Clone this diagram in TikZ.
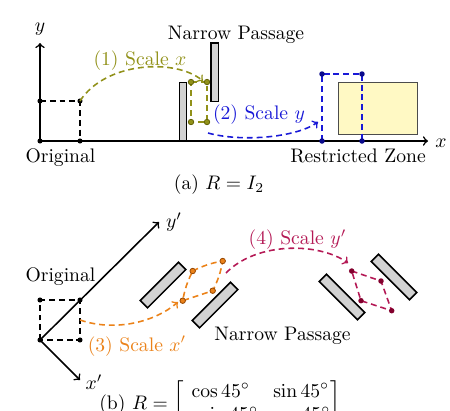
\documentclass[tikz,border=0pt]{standalone}
\usepackage{amsmath}
\definecolor{olivec}{RGB}{145,145,25}
\definecolor{olived}{RGB}{100,100,10}
\definecolor{bluec}{RGB}{25,25,215}
\definecolor{blued}{RGB}{10,10,140}
\definecolor{orangec}{RGB}{235,130,25}
\definecolor{oranged}{RGB}{150,70,0}
\definecolor{purplec}{RGB}{180,25,85}
\definecolor{purpled}{RGB}{130,0,45}
\definecolor{zonefill}{RGB}{255,249,196}
\begin{document}
\begin{tikzpicture}[x=0.51pt,y=-0.51pt,
  axisline/.style={thick,->},
  dashbox/.style={thick,dash pattern=on 3pt off 2pt},
  bar/.style={draw,thick,fill=gray!35},
  rbar/.style={draw,thick,fill=gray!35,minimum width=27.6pt,minimum height=5.3pt,inner sep=0pt},
  lbl/.style={anchor=base,inner sep=0pt}]
\useasboundingbox (0,0) rectangle (450,410);
% ---------- (a) ----------
\coordinate (oA) at (40,141);
\coordinate (xA) at (428,141);
\coordinate (yA) at (40,43);
\draw[axisline] (oA) -- (xA);
\draw[axisline] (oA) -- (yA);
\node (xlab) at (441,143) {$x$};
\node (ylab) at (40,29) {$y$};
% original square
\coordinate (a1) at (40,101);
\coordinate (a2) at (80,101);
\coordinate (a3) at (80,141);
\draw[dashbox] (a1) -- (a2) -- (a3);
\foreach \p in {oA,a1,a2,a3} \fill (\p) circle (1.3pt);
\node[lbl] (origA) at (60.5,162) {Original};
% narrow passage
\draw[bar] (179.5,82.5) rectangle (186.5,141);
\draw[bar] (211,43) rectangle (218.5,101.5);
\node[lbl] (npA) at (236,39.5) {Narrow Passage};
% restricted zone
\draw[draw=black!70,fill=zonefill] (338,82) rectangle (417,134);
\node[lbl] (rz) at (358,162) {Restricted Zone};
% olive box
\coordinate (b1) at (191,82);
\coordinate (b2) at (207,82);
\coordinate (b3) at (207,122);
\coordinate (b4) at (191,122);
\draw[dashbox,olivec] (b1) -- (b2) -- (b3) -- (b4) -- cycle;
\foreach \p in {b1,b2,b3,b4} \filldraw[fill=olivec,draw=olived,thin] (\p) circle (1.4pt);
% blue box
\coordinate (c1) at (322,74);
\coordinate (c2) at (362,74);
\coordinate (c3) at (362,141);
\coordinate (c4) at (322,141);
\draw[dashbox,bluec] (c4) -- (c1) -- (c2) -- (c3);
\foreach \p in {c1,c2,c3,c4} \fill[blued] (\p) circle (1.4pt);
% arcs
\coordinate (e1) at (203,81);
\draw[dashbox,olivec,->] (a2) .. controls (105,62) and (175,58) .. (e1);
\node[lbl,text=olivec] (s1) at (140,65.5) {(1) Scale $x$};
\coordinate (s2a) at (208,133);
\coordinate (s2b) at (318,122);
\draw[dashbox,bluec,->] (s2a) .. controls (240,142) and (295,138) .. (s2b);
\node[lbl,text=bluec] (s2) at (259,119) {(2) Scale $y$};
\node (capA) at (219,185) {(a) $R = I_2$};
% ---------- (b) ----------
\coordinate (oB) at (40,340);
\coordinate (ypB) at (159,222);
\coordinate (xpB) at (80,380);
\draw[axisline] (oB) -- (ypB);
\draw[axisline] (oB) -- (xpB);
\node (yplab) at (174,222) {$y'$};
\node (xplab) at (94,382) {$x'$};
\coordinate (d1) at (40,300);
\coordinate (d2) at (80,300);
\coordinate (d3) at (80,340);
\draw[dashbox] (oB) -- (d1) -- (d2) -- (d3) -- cycle;
\foreach \p in {oB,d1,d2,d3} \fill (\p) circle (1.3pt);
\node[lbl] (origB) at (60.5,281.7) {Original};
% bars
\node[rbar,rotate=45] (r1) at (163,285) {};
\node[rbar,rotate=45] (r2) at (215,305) {};
\node[rbar,rotate=-45] (r3) at (342,297) {};
\node[rbar,rotate=-45] (r4) at (394,277) {};
\node[lbl] (npB) at (282.5,340) {Narrow Passage};
% orange box
\coordinate (f1) at (192.7,271);
\coordinate (f2) at (222.7,261);
\coordinate (f3) at (212.7,290.7);
\coordinate (f4) at (182.7,300.7);
\draw[dashbox,orangec] (f1) to[bend left=8] (f2) to[bend left=8] (f3) -- (f4) to[bend left=8] (f1);
\foreach \p in {f1,f2,f3,f4} \filldraw[fill=orangec,draw=oranged,thin] (\p) circle (1.4pt);
% purple box
\coordinate (g1) at (351.7,271);
\coordinate (g2) at (381,281);
\coordinate (g3) at (391.7,310.7);
\coordinate (g4) at (361,300.7);
\draw[dashbox,purplec] (g1) -- (g2) -- (g3) -- (g4) -- cycle;
\foreach \p in {g1,g2,g3,g4} \fill[purpled] (\p) circle (1.4pt);
% arcs
\coordinate (s3a) at (80,320);
\coordinate (s3b) at (178,302);
\draw[dashbox,orangec,->] (s3a) .. controls (115,332) and (155,322) .. (s3b);
\node[lbl,text=orangec] (s3) at (137,351) {(3) Scale $x'$};
\coordinate (s4a) at (226,273);
\coordinate (s4b) at (348,263);
\draw[dashbox,purplec,->] (s4a) .. controls (256,242) and (318,242) .. (s4b);
\node[lbl,text=purplec] (s4) at (297.5,244.3) {(4) Scale $y'$};
\node[lbl] (capB) at (220,409) {\setlength\arraycolsep{3.6pt}(b) $R = \begin{bmatrix} \cos 45^\circ & \sin 45^\circ \\ -\sin 45^\circ & \cos 45^\circ \end{bmatrix}$};
\end{tikzpicture}
\end{document}
